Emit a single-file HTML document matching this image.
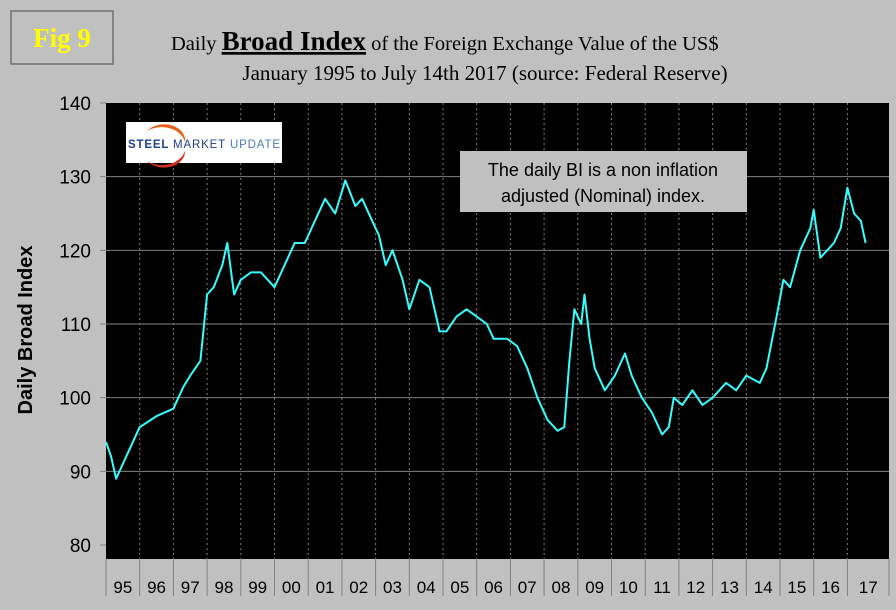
<!DOCTYPE html>
<html><head><meta charset="utf-8"><style>
body{margin:0;background:#c0c0c0;}
#c{position:relative;width:896px;height:610px;background:#c0c0c0;overflow:hidden;font-family:"Liberation Sans",sans-serif;}
</style></head><body>
<div id="c">
<svg id="s" width="896" height="610" xmlns="http://www.w3.org/2000/svg">
<rect x="11" y="11" width="102" height="53" fill="#c0c0c0" stroke="#707070" stroke-width="1.5"/>
<text x="62" y="47" text-anchor="middle" font-family="Liberation Serif,serif" font-weight="bold" font-size="27" fill="#ffff00">Fig 9</text>
<text x="171" y="50" font-family="Liberation Serif,serif" font-size="20.5" fill="#000">Daily <tspan font-weight="bold" font-size="27" text-decoration="underline">Broad Index</tspan> of the Foreign Exchange Value of the US$</text>
<text x="485" y="80" text-anchor="middle" font-family="Liberation Serif,serif" font-size="21" fill="#000">January 1995 to July 14th 2017 (source: Federal Reserve)</text>
<rect x="106" y="103" width="783" height="456" fill="#000"/>
<g id="grid"></g><g id="axes"></g>
<text transform="translate(32,330) rotate(-90)" text-anchor="middle" font-weight="bold" font-size="20" fill="#000">Daily Broad Index</text>
<g>
<rect x="126" y="122" width="156" height="41" fill="#fff"/>
<path d="M147 131 A24 19 0 0 1 185 142 A21 16 0 0 0 147 131Z" fill="#e8641c"/>
<path d="M147 161 A24 19 0 0 0 185 151 A21 16 0 0 1 147 161Z" fill="#d03020"/>
<text x="128" y="148" font-size="11.5" font-weight="bold" fill="#1f3f8f" textLength="152">STEEL <tspan font-weight="normal">MARKET</tspan> <tspan font-weight="normal" fill="#4a78c0">UPDATE</tspan></text>
</g>
<rect x="460" y="151" width="287" height="61" fill="#c0c0c0"/>
<text x="603" y="176" text-anchor="middle" font-size="18" fill="#000">The daily BI is a non inflation</text>
<text x="603" y="202" text-anchor="middle" font-size="18" fill="#000">adjusted (Nominal) index.</text>
<path id="line" fill="none" stroke="#33ffff" stroke-width="2" stroke-linejoin="round"/>
</svg>
</div>
<script>
const yearLabels=["95","96","97","98","99","00","01","02","03","04","05","06","07","08","09","10","11","12","13","14","15","16","17"];
const yTicks=[80,90,100,110,120,130,140];
const dates=[1995.0,1995.15,1995.3,1995.5,1996.0,1996.5,1997.0,1997.3,1997.5,1997.8,1998.0,1998.2,1998.45,1998.6,1998.8,1999.0,1999.3,1999.6,2000.0,2000.3,2000.6,2000.9,2001.2,2001.5,2001.8,2002.1,2002.4,2002.6,2002.9,2003.1,2003.3,2003.5,2003.8,2004.0,2004.3,2004.6,2004.9,2005.1,2005.4,2005.7,2006.0,2006.3,2006.5,2006.9,2007.2,2007.5,2007.8,2008.1,2008.4,2008.6,2008.75,2008.9,2009.1,2009.2,2009.35,2009.5,2009.8,2010.1,2010.4,2010.6,2010.9,2011.2,2011.5,2011.7,2011.85,2012.1,2012.4,2012.7,2013.0,2013.4,2013.7,2014.0,2014.4,2014.6,2014.9,2015.1,2015.3,2015.6,2015.9,2016.0,2016.2,2016.4,2016.6,2016.8,2017.0,2017.2,2017.4,2017.54];
const values=[94,92,89,91,96,97.5,98.5,101.5,103,105,114,115,118,121,114,116,117,117,115,118,121,121,124,127,125,129.5,126,127,124,122,118,120,116,112,116,115,109,109,111,112,111,110,108,108,107,104,100,97,95.5,96,105,112,110,114,108,104,101,103,106,103,100,98,95,96,100,99,101,99,100,102,101,103,102,104,111,116,115,120,123,125.5,119,120,121,123,128.5,125,124,121];
const X0=106,X1=889,YW=33.7,Y80=545,Y140=103;
const xs=t=>X0+(t-1995)*YW;
const ys=v=>Y80-(v-80)*(Y80-Y140)/60;
const NS="http://www.w3.org/2000/svg";
const grid=document.getElementById('grid'),axes=document.getElementById('axes');
function mk(tag,attrs,parent){const e=document.createElementNS(NS,tag);for(const k in attrs)e.setAttribute(k,attrs[k]);parent.appendChild(e);return e;}
yearLabels.forEach((lab,i)=>{
  const x=xs(1995+i);
  const xn=i<yearLabels.length-1?xs(1996+i):X1;
  if(i>0){const g=mk('line',{x1:x,x2:x,y1:103,y2:559,stroke:'#808080','stroke-dasharray':'2,3','stroke-width':1},grid);
  
  }
  const sep=mk('line',{x1:x,x2:x,y1:559,y2:596,stroke:'#808080','stroke-width':1},axes);
  
  
  const t=mk('text',{x:(x+xn)/2,y:593,'text-anchor':'middle','font-size':'17',fill:'#000'},axes);
  t.textContent=lab;
  
  
});
const endSep=mk('line',{x1:X1,x2:X1,y1:559,y2:596,stroke:'#808080'},axes);


yTicks.forEach(v=>{
  const y=ys(v);
  if(v>80&&v<140){const g=mk('line',{x1:X0,x2:X1,y1:y,y2:y,stroke:'#808080','stroke-width':1},grid);
  
  }
  const tk=mk('line',{x1:100,x2:X0,y1:y,y2:y,stroke:'#808080'},axes);
  
  
  const t=mk('text',{x:91,y:y+7,'text-anchor':'end','font-size':'19',fill:'#000'},axes);
  t.textContent=v;
  
  
});
document.getElementById('line').setAttribute('d',dates.map((d,i)=>(i?'L':'M')+xs(d).toFixed(1)+' '+ys(values[i]).toFixed(1)).join(' '));
</script>
</body></html>
